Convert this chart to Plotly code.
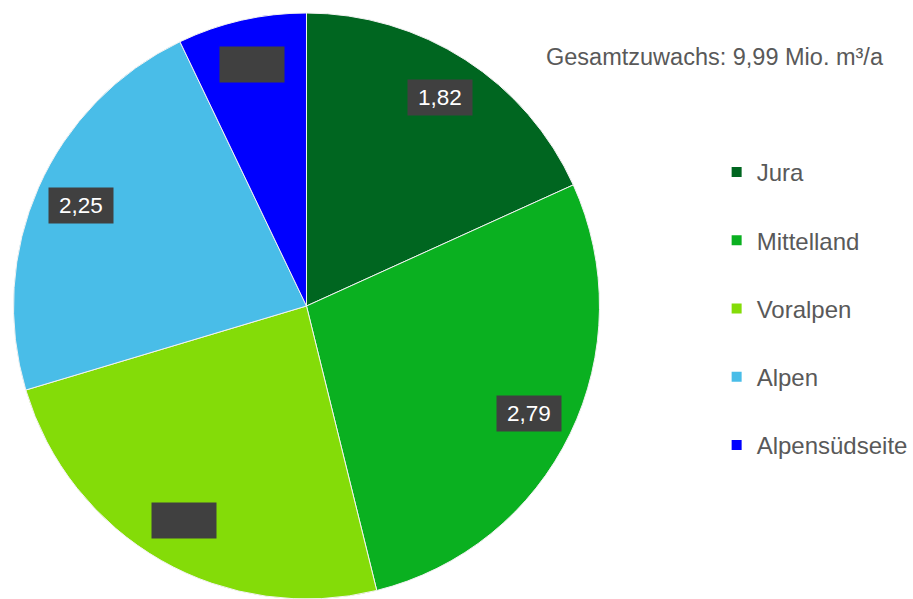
import math
import plotly.graph_objects as go

regions = ["Jura", "Mittelland", "Voralpen", "Alpen", "Alpensüdseite"]
values = [1.82, 2.79, 2.42, 2.25, 0.71]
value_labels = ["1,82", "2,79", "2,42", "2,25", "0,71"]
label_visible = [True, True, False, True, False]
colors = ["#006620", "#0AB020", "#84DC08", "#49BDE8", "#0000FF"]
total_text = "Gesamtzuwachs: 9,99 Mio. m³/a"

W, H = 913, 599
MT, MB, ML, MR = 13, 0, 0, 0
PW, PH = W - ML - MR, H - MT - MB
DW = 592
dom_x = [(307.5 - DW / 2 - ML) / PW, (307.5 + DW / 2 - ML) / PW]
R = min(DW, PH) / 2
CX, CY = 307.5, MT + PH / 2
FONT = "Liberation Sans, Arial, sans-serif"

fig = go.Figure()
fig.add_trace(go.Pie(
    labels=regions, values=values, sort=False, direction="clockwise",
    rotation=0, marker=dict(colors=colors, line=dict(color="#F2F2F2", width=1)),
    textinfo="none", hoverinfo="label+value", showlegend=False,
    domain=dict(x=dom_x, y=[0, 1]),
))

# legend entries
for i, (name, col) in enumerate(zip(regions, colors)):
    fig.add_trace(go.Scatter(
        x=[None], y=[None], mode="markers", name=name,
        marker=dict(symbol="square", size=10, color=col),
        legendgroup=f"g{i}", showlegend=True,
    ))

# data labels placed along slice mid-angles
tot = sum(values)
cum = 0.0
for v, lab, vis in zip(values, value_labels, label_visible):
    mid = (cum + v / 2) / tot * 2 * math.pi
    cum += v
    rl = 0.845 * R
    px = CX + rl * math.sin(mid)
    py = CY - rl * math.cos(mid)
    fig.add_annotation(
        x=(px - ML) / PW, y=1 - (py - MT) / PH, xref="paper", yref="paper",
        text=lab, showarrow=False, xanchor="center", yanchor="middle",
        font=dict(family=FONT, size=22.5, color="#FFFFFF" if vis else "#404040"),
        bgcolor="#404040", width=58, height=29, borderpad=3,
    )

fig.add_annotation(
    x=(546 - ML) / PW, y=1 - (57 - MT) / PH, xref="paper", yref="paper",
    text=total_text, showarrow=False, xanchor="left", yanchor="middle",
    font=dict(family=FONT, size=23.5, color="#595959"),
)

fig.update_layout(
    width=W, height=H, margin=dict(t=MT, b=MB, l=ML, r=MR),
    paper_bgcolor="white", plot_bgcolor="white",
    xaxis=dict(visible=False), yaxis=dict(visible=False),
    legend=dict(
        x=(719 - ML) / PW, y=1 - (150 - MT) / PH, xanchor="left", yanchor="top",
        font=dict(family=FONT, size=24, color="#595959"),
        tracegroupgap=34, itemclick=False, bgcolor="rgba(0,0,0,0)",
    ),
    font=dict(family=FONT),
)

fig.write_html("out.html", config={"displayModeBar": False},
               post_script="document.body.style.margin='0';")
